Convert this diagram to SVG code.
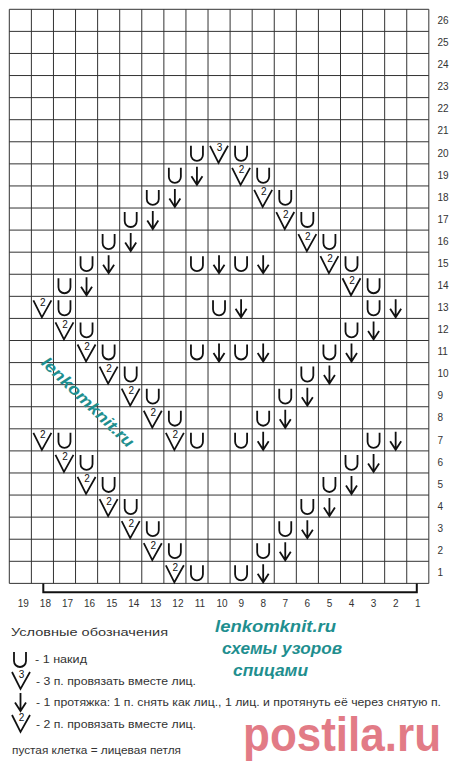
<svg xmlns="http://www.w3.org/2000/svg" xmlns:xlink="http://www.w3.org/1999/xlink" width="460" height="766" viewBox="0 0 460 766">
<style>
.grid{fill:none;stroke:#333;stroke-width:1}
.sym{fill:none;stroke:#111;stroke-width:1.8;stroke-linecap:butt;stroke-linejoin:miter}
.vs{fill:none;stroke:#111;stroke-width:1.75}
.dg{font-family:"Liberation Sans",Arial,sans-serif;font-size:10px;fill:#111;text-anchor:middle}
.num{font-family:"Liberation Sans",Arial,sans-serif;font-size:10px;fill:#333}
.cn{text-anchor:middle}
.leg{font-family:"Liberation Sans",Arial,sans-serif;font-size:11px;fill:#333}
.teal{font-family:"Liberation Sans",Arial,sans-serif;font-weight:bold;font-style:italic;font-size:16px;fill:#1f8f8f}
</style>
<defs>
<path id="U" class="sym" d="M5,4 V13 A6,6 0 0 0 17,13 V4"/>
<path id="A" class="sym" d="M11,3 V21 M5.5,12.5 L11,21 L16.5,12.5"/>
<path id="V" class="vs" d="M2,4 L10.5,21 L20,4"/>
</defs>
<rect width="460" height="766" fill="#fff"/>
<g id="chart" transform="translate(9.3,9.3)">
<path class="grid" d="M0,0V574.08M22.08,0V574.08M44.16,0V574.08M66.24,0V574.08M88.32,0V574.08M110.4,0V574.08M132.48,0V574.08M154.56,0V574.08M176.64,0V574.08M198.72,0V574.08M220.8,0V574.08M242.88,0V574.08M264.96,0V574.08M287.04,0V574.08M309.12,0V574.08M331.2,0V574.08M353.28,0V574.08M375.36,0V574.08M397.44,0V574.08M419.52,0V574.08M0,0H419.52M0,22.08H419.52M0,44.16H419.52M0,66.24H419.52M0,88.32H419.52M0,110.4H419.52M0,132.48H419.52M0,154.56H419.52M0,176.64H419.52M0,198.72H419.52M0,220.8H419.52M0,242.88H419.52M0,264.96H419.52M0,287.04H419.52M0,309.12H419.52M0,331.2H419.52M0,353.28H419.52M0,375.36H419.52M0,397.44H419.52M0,419.52H419.52M0,441.6H419.52M0,463.68H419.52M0,485.76H419.52M0,507.84H419.52M0,529.92H419.52M0,552H419.52M0,574.08H419.52"/>
<g id="row20">
<use href="#U" x="176.64" y="132.48"/><use href="#V" x="198.72" y="132.48"/><text class="dg" x="210.2" y="141.98">3</text><use href="#U" x="220.8" y="132.48"/>
</g>
<g id="row19">
<use href="#U" x="154.56" y="154.56"/><use href="#A" x="176.64" y="154.56"/><use href="#V" x="220.8" y="154.56"/><text class="dg" x="232.3" y="164.06">2</text><use href="#U" x="242.88" y="154.56"/>
</g>
<g id="row18">
<use href="#U" x="132.48" y="176.64"/><use href="#A" x="154.56" y="176.64"/><use href="#V" x="242.88" y="176.64"/><text class="dg" x="254.38" y="186.14">2</text><use href="#U" x="264.96" y="176.64"/>
</g>
<g id="row17">
<use href="#U" x="110.4" y="198.72"/><use href="#A" x="132.48" y="198.72"/><use href="#V" x="264.96" y="198.72"/><text class="dg" x="276.46" y="208.22">2</text><use href="#U" x="287.04" y="198.72"/>
</g>
<g id="row16">
<use href="#U" x="88.32" y="220.8"/><use href="#A" x="110.4" y="220.8"/><use href="#V" x="287.04" y="220.8"/><text class="dg" x="298.54" y="230.3">2</text><use href="#U" x="309.12" y="220.8"/>
</g>
<g id="row15">
<use href="#U" x="66.24" y="242.88"/><use href="#A" x="88.32" y="242.88"/><use href="#U" x="176.64" y="242.88"/><use href="#A" x="198.72" y="242.88"/><use href="#U" x="220.8" y="242.88"/><use href="#A" x="242.88" y="242.88"/><use href="#V" x="309.12" y="242.88"/><text class="dg" x="320.62" y="252.38">2</text><use href="#U" x="331.2" y="242.88"/>
</g>
<g id="row14">
<use href="#U" x="44.16" y="264.96"/><use href="#A" x="66.24" y="264.96"/><use href="#V" x="331.2" y="264.96"/><text class="dg" x="342.7" y="274.46">2</text><use href="#U" x="353.28" y="264.96"/>
</g>
<g id="row13">
<use href="#V" x="22.08" y="287.04"/><text class="dg" x="33.58" y="296.54">2</text><use href="#U" x="44.16" y="287.04"/><use href="#U" x="198.72" y="287.04"/><use href="#A" x="220.8" y="287.04"/><use href="#U" x="353.28" y="287.04"/><use href="#A" x="375.36" y="287.04"/>
</g>
<g id="row12">
<use href="#V" x="44.16" y="309.12"/><text class="dg" x="55.66" y="318.62">2</text><use href="#U" x="66.24" y="309.12"/><use href="#U" x="331.2" y="309.12"/><use href="#A" x="353.28" y="309.12"/>
</g>
<g id="row11">
<use href="#V" x="66.24" y="331.2"/><text class="dg" x="77.74" y="340.7">2</text><use href="#U" x="88.32" y="331.2"/><use href="#U" x="176.64" y="331.2"/><use href="#A" x="198.72" y="331.2"/><use href="#U" x="220.8" y="331.2"/><use href="#A" x="242.88" y="331.2"/><use href="#U" x="309.12" y="331.2"/><use href="#A" x="331.2" y="331.2"/>
</g>
<g id="row10">
<use href="#V" x="88.32" y="353.28"/><text class="dg" x="99.82" y="362.78">2</text><use href="#U" x="110.4" y="353.28"/><use href="#U" x="287.04" y="353.28"/><use href="#A" x="309.12" y="353.28"/>
</g>
<g id="row9">
<use href="#V" x="110.4" y="375.36"/><text class="dg" x="121.9" y="384.86">2</text><use href="#U" x="132.48" y="375.36"/><use href="#U" x="264.96" y="375.36"/><use href="#A" x="287.04" y="375.36"/>
</g>
<g id="row8">
<use href="#V" x="132.48" y="397.44"/><text class="dg" x="143.98" y="406.94">2</text><use href="#U" x="154.56" y="397.44"/><use href="#U" x="242.88" y="397.44"/><use href="#A" x="264.96" y="397.44"/>
</g>
<g id="row7">
<use href="#V" x="22.08" y="419.52"/><text class="dg" x="33.58" y="429.02">2</text><use href="#U" x="44.16" y="419.52"/><use href="#V" x="154.56" y="419.52"/><text class="dg" x="166.06" y="429.02">2</text><use href="#U" x="176.64" y="419.52"/><use href="#U" x="220.8" y="419.52"/><use href="#A" x="242.88" y="419.52"/><use href="#U" x="353.28" y="419.52"/><use href="#A" x="375.36" y="419.52"/>
</g>
<g id="row6">
<use href="#V" x="44.16" y="441.6"/><text class="dg" x="55.66" y="451.1">2</text><use href="#U" x="66.24" y="441.6"/><use href="#U" x="331.2" y="441.6"/><use href="#A" x="353.28" y="441.6"/>
</g>
<g id="row5">
<use href="#V" x="66.24" y="463.68"/><text class="dg" x="77.74" y="473.18">2</text><use href="#U" x="88.32" y="463.68"/><use href="#U" x="309.12" y="463.68"/><use href="#A" x="331.2" y="463.68"/>
</g>
<g id="row4">
<use href="#V" x="88.32" y="485.76"/><text class="dg" x="99.82" y="495.26">2</text><use href="#U" x="110.4" y="485.76"/><use href="#U" x="287.04" y="485.76"/><use href="#A" x="309.12" y="485.76"/>
</g>
<g id="row3">
<use href="#V" x="110.4" y="507.84"/><text class="dg" x="121.9" y="517.34">2</text><use href="#U" x="132.48" y="507.84"/><use href="#U" x="264.96" y="507.84"/><use href="#A" x="287.04" y="507.84"/>
</g>
<g id="row2">
<use href="#V" x="132.48" y="529.92"/><text class="dg" x="143.98" y="539.42">2</text><use href="#U" x="154.56" y="529.92"/><use href="#U" x="242.88" y="529.92"/><use href="#A" x="264.96" y="529.92"/>
</g>
<g id="row1">
<use href="#V" x="154.56" y="552"/><text class="dg" x="166.06" y="561.5">2</text><use href="#U" x="176.64" y="552"/><use href="#U" x="220.8" y="552"/><use href="#A" x="242.88" y="552"/>
</g>
</g>
<g id="row-numbers" class="num">
<text x="437.5" y="24.04">26</text><text x="437.5" y="46.12">25</text><text x="437.5" y="68.2">24</text><text x="437.5" y="90.28">23</text><text x="437.5" y="112.36">22</text><text x="437.5" y="134.44">21</text><text x="437.5" y="156.52">20</text><text x="437.5" y="178.6">19</text><text x="437.5" y="200.68">18</text><text x="437.5" y="222.76">17</text><text x="437.5" y="244.84">16</text><text x="437.5" y="266.92">15</text><text x="437.5" y="289">14</text><text x="437.5" y="311.08">13</text><text x="437.5" y="333.16">12</text><text x="437.5" y="355.24">11</text><text x="437.5" y="377.32">10</text><text x="437.5" y="399.4">9</text><text x="437.5" y="421.48">8</text><text x="437.5" y="443.56">7</text><text x="437.5" y="465.64">6</text><text x="437.5" y="487.72">5</text><text x="437.5" y="509.8">4</text><text x="437.5" y="531.88">3</text><text x="437.5" y="553.96">2</text><text x="437.5" y="576.04">1</text>
</g>
<g id="col-numbers" class="num cn">
<text x="23.3" y="607">19</text><text x="45.4" y="607">18</text><text x="67.5" y="607">17</text><text x="89.6" y="607">16</text><text x="111.7" y="607">15</text><text x="133.7" y="607">14</text><text x="155.8" y="607">13</text><text x="177.9" y="607">12</text><text x="200" y="607">11</text><text x="222.1" y="607">10</text><text x="241.2" y="607">9</text><text x="263.2" y="607">8</text><text x="285.3" y="607">7</text><text x="307.4" y="607">6</text><text x="329.5" y="607">5</text><text x="351.6" y="607">4</text><text x="373.6" y="607">3</text><text x="395.7" y="607">2</text><text x="417.8" y="607">1</text>
</g>
<g id="connectors">
<path d="M43.3,583.4 V592.3 H416.8 V583.4" fill="none" stroke="#111" stroke-width="2"/>
</g>
<g id="watermark-diag">
<text class="teal" font-size="15" text-anchor="middle" textLength="122" lengthAdjust="spacingAndGlyphs" transform="translate(87.5,402.5) rotate(44)" y="5">lenkomknit.ru</text>
</g>
<g id="legend">
<text class="leg" x="11" y="636" font-size="13.5" textLength="157" lengthAdjust="spacingAndGlyphs">Условные обозначения</text>
<use href="#U" transform="translate(9,648)"/>
<text class="leg" x="35" y="663" textLength="52" lengthAdjust="spacingAndGlyphs">- 1 накид</text>
<use href="#V" transform="translate(10,668)"/>
<text class="dg" x="21.5" y="678">3</text>
<text class="leg" x="36" y="685" textLength="160" lengthAdjust="spacingAndGlyphs">- 3 п. провязать вместе лиц.</text>
<use href="#A" transform="translate(9.5,690)"/>
<text class="leg" x="36" y="706" textLength="405" lengthAdjust="spacingAndGlyphs">- 1 протяжка: 1 п. снять как лиц., 1 лиц. и протянуть её через снятую п.</text>
<use href="#V" transform="translate(10,711)"/>
<text class="dg" x="21.5" y="721">2</text>
<text class="leg" x="36" y="728" textLength="160" lengthAdjust="spacingAndGlyphs">- 2 п. провязать вместе лиц.</text>
<text class="leg" x="12" y="754" textLength="169" lengthAdjust="spacingAndGlyphs">пустая клетка = лицевая петля</text>
</g>
<g id="site">
<text class="teal" x="215" y="632" textLength="121" lengthAdjust="spacingAndGlyphs">lenkomknit.ru</text>
<text class="teal" x="222" y="654" textLength="120" lengthAdjust="spacingAndGlyphs">схемы узоров</text>
<text class="teal" x="233" y="676" textLength="75" lengthAdjust="spacingAndGlyphs">спицами</text>
</g>
<g id="watermark-postila">
<text x="0" y="0" transform="translate(243,751) scale(1,1.1)" font-family="'Liberation Sans',Arial,sans-serif" font-weight="bold" font-size="44" fill="#e27b86">postila.ru</text>
</g>
</svg>
